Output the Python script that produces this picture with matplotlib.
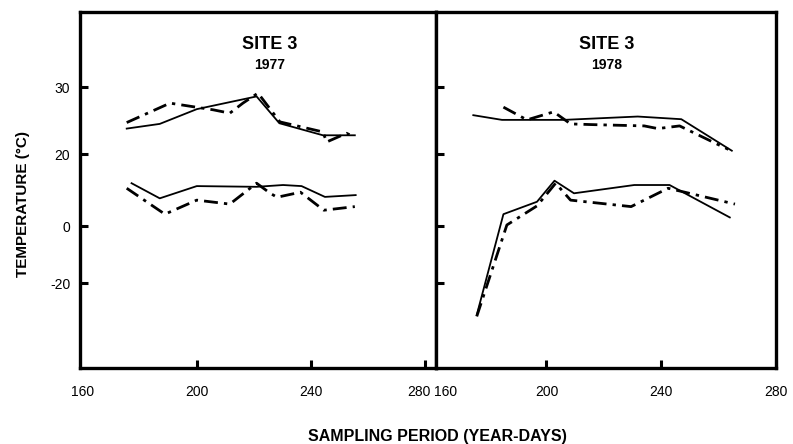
import numpy as np
import matplotlib
matplotlib.use("Agg")
import matplotlib.pyplot as plt

plt.rcParams['font.family'] = ['Liberation Sans', 'DejaVu Sans']

# ---- data ----
# 1977 panel
d77_up_solid = [175.4, 187, 200, 221, 229, 244.3, 255.5]
t77_up_solid = [23.8, 24.5, 26.7, 28.6, 24.6, 22.8, 22.8]
d77_up_dash = [175.4, 190.6, 205.8, 211.6, 216.2, 221.5, 229.2, 244.3, 245.6, 252.6, 255.5]
t77_up_dash = [24.7, 27.6, 26.6, 26.1, 27.6, 29.1, 24.8, 23.3, 21.8, 23.1, 22.5]
d77_lo_solid = [177.1, 187, 200, 221, 230.3, 236.8, 245, 255.8]
t77_lo_solid = [11.9, 7.7, 11.1, 10.9, 11.4, 11.1, 8.1, 8.6]
d77_lo_dash = [175.4, 188.8, 200, 211.6, 221, 225.8, 228.2, 236.4, 244.6, 255.5]
t77_lo_dash = [10.5, 3.3, 7.2, 6.1, 11.9, 9.1, 8.0, 9.4, 4.4, 5.4]

# 1978 panel
d78_up_solid = [174.5, 184.5, 206.1, 231.8, 247, 264.6]
t78_up_solid = [25.8, 25.1, 25.1, 25.6, 25.2, 20.5]
d78_up_dash = [185, 193.2, 202.5, 208.4, 215.4, 234.1, 238.8, 246.4, 259.9, 263.4]
t78_up_dash = [27.0, 25.1, 26.3, 24.5, 24.4, 24.2, 23.8, 24.2, 21.4, 20.7]
d78_lo_solid = [175.7, 185, 196.7, 202.8, 209.6, 230.6, 242.9, 263.9]
t78_lo_solid = [-31.2, 3.3, 6.75, 12.6, 9.1, 11.4, 11.4, 2.4]
d78_lo_dash = [175.7, 186.2, 196.7, 203.2, 208.4, 229.5, 242.4, 265.7]
t78_lo_dash = [-31.7, 0.3, 5.6, 11.9, 7.2, 5.4, 10.5, 6.1]

y_ticks = [30, 20, 0, -20]
x_ticks = [200, 240, 280]
x_labels = ['160', '200', '240', '280']

# the printed temperature axis is not evenly spaced; piecewise-linear scale
T_KNOTS = np.array([-60, -20, 0, 20, 30, 50])
P_KNOTS = np.array([-397, -283, -226, -154, -87, 47.0])


def fwd(t):
    return np.interp(t, T_KNOTS, P_KNOTS)


def inv(p):
    return np.interp(p, P_KNOTS, T_KNOTS)


fig = plt.figure(figsize=(7.93, 4.44), dpi=100)
ax1 = fig.add_axes([80 / 793, 76 / 444, 356 / 793, 356 / 444])
ax2 = fig.add_axes([436 / 793, 76 / 444, 340 / 793, 356 / 444])

dash = (0, (5, 2.2, 1.2, 2.2))
for ax, data, xlim, title, year, tx in [
        (ax1, (d77_up_solid, t77_up_solid, d77_up_dash, t77_up_dash,
               d77_lo_solid, t77_lo_solid, d77_lo_dash, t77_lo_dash),
         (159, 284), 'SITE 3', '1977', 0.534),
        (ax2, (d78_up_solid, t78_up_solid, d78_up_dash, t78_up_dash,
               d78_lo_solid, t78_lo_solid, d78_lo_dash, t78_lo_dash),
         (161.5, 280), 'SITE 3', '1978', 0.503)]:
    ax.set_yscale('function', functions=(fwd, inv))
    ax.plot(data[0], data[1], color='black', lw=1.3)
    ax.plot(data[2], data[3], color='black', lw=2.0, linestyle=dash)
    ax.plot(data[4], data[5], color='black', lw=1.3)
    ax.plot(data[6], data[7], color='black', lw=2.0, linestyle=dash)
    ax.set_xlim(*xlim)
    ax.set_ylim(-49.8, 41.2)
    ax.set_yticks(y_ticks)
    ax.set_xticks(x_ticks)
    ax.set_xticklabels([])
    ax.tick_params(direction='in', length=6, width=2.2)
    for s in ax.spines.values():
        s.set_linewidth(2.4)
    ax.text(tx, 0.91, title, transform=ax.transAxes, ha='center', va='center',
            fontsize=13, fontweight='bold')
    ax.text(tx, 0.85, year, transform=ax.transAxes, ha='center', va='center',
            fontsize=10, fontweight='bold')

ax1.set_yticklabels([str(v) for v in y_ticks], fontsize=10)
ax1.tick_params(axis='y', pad=7)
ax2.set_yticklabels([])

# x tick labels; the 160 of each panel sits at its left spine
for ax in (ax1, ax2):
    lo, hi = ax.get_xlim()
    for lab in x_labels:
        v = int(lab)
        dx = 0
        if v < lo:
            v = lo
            dx = 3 if ax is ax1 else 7
        if ax is ax1 and v == 280:
            dx = -4
        ax.annotate(lab, xy=(v, 0), xycoords=('data', 'axes fraction'),
                    xytext=(dx, -17), textcoords='offset points',
                    ha='center', va='center', fontsize=10)

fig.text(23 / 793, 1 - 204 / 444, 'TEMPERATURE (°C)', rotation=90,
         ha='center', va='center', fontsize=11, fontweight='bold')
fig.text(437 / 793, 8 / 444, 'SAMPLING PERIOD (YEAR-DAYS)',
         ha='center', va='center', fontsize=11.5, fontweight='bold')

fig.savefig('out.png', dpi=100)
